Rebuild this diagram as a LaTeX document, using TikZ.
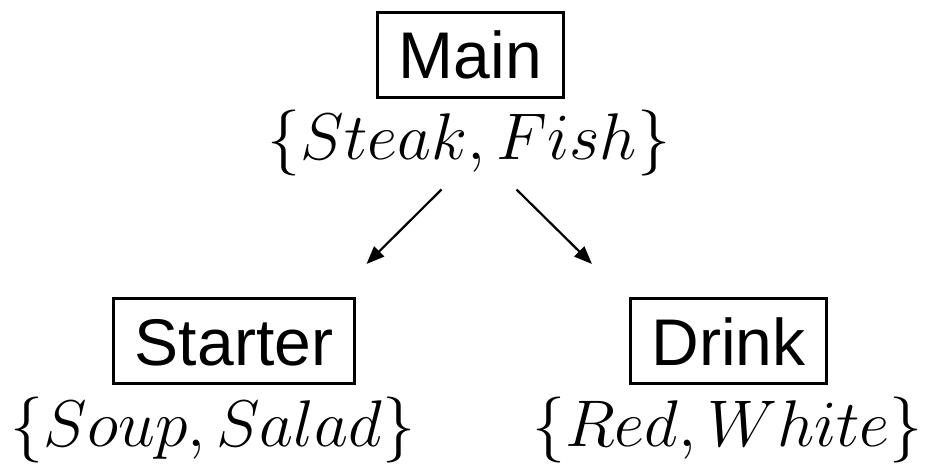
\RequirePackage{fix-cm}
\documentclass[tikz,border=0pt]{standalone}
\usepackage[no-math]{fontspec}
\newfontfamily\hv{Liberation Sans}
\usetikzlibrary{arrows.meta}

\tikzset{
  varbox/.style={draw, line width=3pt, font=\hv\fontsize{66}{76}\selectfont,
    text height=48pt, text depth=0pt, inner xsep=21pt, inner ysep=18.5pt},
  valueset/.style={anchor=base, inner sep=0pt, font=\fontsize{66}{76}\selectfont},
  link/.style={line width=2.2pt, -{Triangle[length=18pt,width=14pt]}}
}

\begin{document}
\begin{tikzpicture}[x=1pt, y=-1pt]
  \useasboundingbox (0,0) rectangle (925,466);

  % variables with their value sets
  \node[varbox] (main) at (470.5,54.5) {Main};
  \node[valueset] (mainvals) at (469,159) {$\{Steak, Fish\}$};

  \node[varbox] (starter) at (234,341) {Starter};
  \node[valueset] (startervals) at (213,446) {$\{Soup, Salad\}$};

  \node[varbox] (drink) at (728.5,341) {Drink};
  \node[valueset] (drinkvals) at (727.5,446) {$\{Red, White\}$};

  % arrow end points between the rows
  \coordinate (l0) at (441.5,189.5);
  \coordinate (l1) at (366.5,264);
  \coordinate (r0) at (516.5,189.5);
  \coordinate (r1) at (592,264);

  \draw[link] (l0) -- (l1);
  \draw[link] (r0) -- (r1);
\end{tikzpicture}
\end{document}
